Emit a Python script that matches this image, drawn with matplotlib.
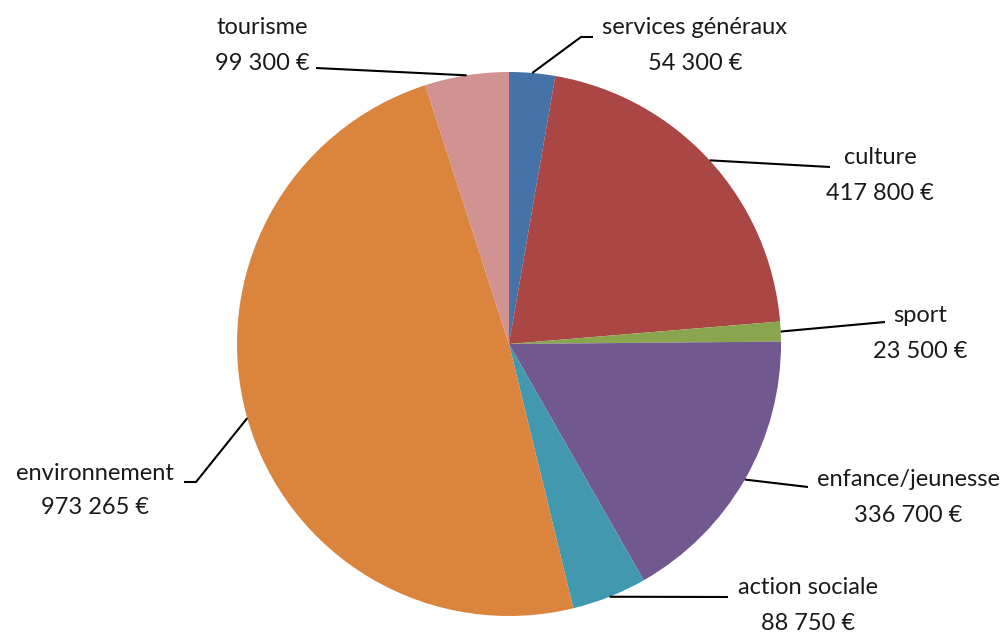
import numpy as np
import matplotlib
matplotlib.use("Agg")
import matplotlib.pyplot as plt

categories = ["services généraux", "culture", "sport", "enfance/jeunesse",
              "action sociale", "environnement", "tourisme"]
values = [54300, 417800, 23500, 336700, 88750, 973265, 99300]
value_labels = ["54 300 €", "417 800 €", "23 500 €", "336 700 €",
                "88 750 €", "973 265 €", "99 300 €"]
colors = ["#4572A7", "#AA4643", "#89A54E", "#71588F", "#4198AF", "#DB843D", "#D19392"]

H = 635
def P(x, y):
    return x, H - y

# layout (pixels, y from top)
cx, cy, R = 509, 344, 272
label_pos = [(695, 28), (880, 158), (920, 316), (908, 480), (808, 588), (95, 473), (262, 28)]
line_ends = [[(581, 37), (593, 37)], [(830, 167)], [(885, 322)], [(808, 487)],
             [(728, 597)], [(196, 482), (184, 482)], [(316, 68)]]

fig = plt.figure(figsize=(10.08, 6.35), dpi=100)
ax = fig.add_axes([0, 0, 1, 1])

wedges, _ = ax.pie(values, colors=colors, startangle=90, counterclock=False,
                   center=P(cx, cy), radius=R, frame=True,
                   wedgeprops=dict(linewidth=0))
ax.set_xlim(0, 1008)
ax.set_ylim(0, H)
ax.set_aspect("auto")
ax.axis("off")

font = ["Lato", "DejaVu Sans"]
for w, cat, vl, (tx, ty), ends in zip(wedges, categories, value_labels, label_pos, line_ends):
    mid = np.deg2rad((w.theta1 + w.theta2) / 2)
    px = cx + R * np.cos(mid)
    py = cy - R * np.sin(mid)
    pts = [(px, py)] + ends
    xs = [p[0] for p in pts]
    ys = [H - p[1] for p in pts]
    ax.plot(xs, ys, color="black", lw=1.5, solid_capstyle="butt")
    ax.text(*P(tx, ty), cat, ha="center", va="center", fontsize=17, family=font, color="#1a1a1a")
    ax.text(*P(tx, ty + 35), vl, ha="center", va="center", fontsize=17, family=font, color="#1a1a1a")

fig.savefig("out.png", dpi=100)
